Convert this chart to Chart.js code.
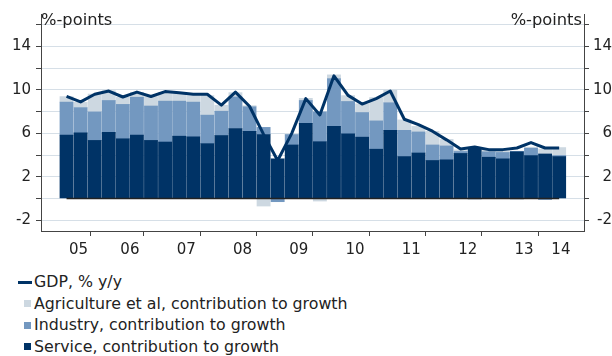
<!DOCTYPE html>
<html>
<head>
<meta charset="utf-8">
<script src="https://cdn.jsdelivr.net/npm/chart.js@4/dist/chart.umd.min.js"></script>
<style>
  html, body { margin: 0; padding: 0; background: #fff; }
  #wrap { position: relative; width: 612px; height: 356px; font-family: "DejaVu Sans", Verdana, sans-serif; color: #222; overflow: hidden; }
  #box { position: absolute; left: 0; top: 0; width: 612px; height: 262px; }
  .unit { position: absolute; top: 11px; font-size: 16.3px; line-height: 18px; white-space: nowrap; }
  #unitL { left: 41px; }
  #unitR { right: 30px; }
  #legend { position: absolute; left: 0; top: 271px; font-size: 15.8px; }
  .li { position: relative; height: 21.5px; line-height: 21.5px; padding-left: 34px; white-space: nowrap; }
  .sw { position: absolute; }
  .sw.line { left: 18px; width: 14px; height: 3px; top: 9.5px; }
  .sw.box { left: 24px; width: 7px; height: 7px; top: 7.5px; }
</style>
</head>
<body>
<div id="wrap">
  <div id="box"><canvas id="c"></canvas></div>
  <div class="unit" id="unitL">%-points</div>
  <div class="unit" id="unitR">%-points</div>
  <div id="legend"></div>
</div>
<script>
// Quarterly GDP growth and sector contributions, 2005Q2 – 2014Q1
const quarters = [
  '2005Q2','2005Q3','2005Q4',
  '2006Q1','2006Q2','2006Q3','2006Q4',
  '2007Q1','2007Q2','2007Q3','2007Q4',
  '2008Q1','2008Q2','2008Q3','2008Q4',
  '2009Q1','2009Q2','2009Q3','2009Q4',
  '2010Q1','2010Q2','2010Q3','2010Q4',
  '2011Q1','2011Q2','2011Q3','2011Q4',
  '2012Q1','2012Q2','2012Q3','2012Q4',
  '2013Q1','2013Q2','2013Q3','2013Q4',
  '2014Q1'
];
const years = ['05','06','07','08','09','10','11','12','13','14'];

const service = [5.83,6.04,5.35,6.10,5.50,5.83,5.35,5.20,5.74,5.68,5.05,5.80,6.45,6.19,5.89,3.65,4.93,6.93,5.23,6.64,5.95,5.65,4.54,6.28,3.86,4.19,3.50,3.56,4.15,4.69,3.80,3.65,4.30,3.95,4.10,3.86];
const industry = [3.05,2.33,2.63,2.93,3.17,3.50,3.17,3.77,3.23,3.20,2.63,2.24,2.90,2.26,0.66,-0.30,0.96,2.10,2.75,4.40,2.99,2.27,2.61,2.54,2.42,1.94,1.43,1.28,0.18,0.00,0.50,0.59,0.05,0.68,-0.10,0.10];
const agriculture = [0.51,0.50,1.64,0.90,0.66,0.45,0.87,0.80,0.70,0.60,1.80,0.55,0.40,0.10,-0.70,0.00,0.00,0.20,-0.24,0.35,0.54,0.80,2.15,1.16,0.96,0.51,1.26,0.60,0.15,-0.10,0.15,0.15,-0.10,0.10,0.45,0.73];
const gdp = [9.4,8.9,9.6,9.9,9.35,9.8,9.4,9.85,9.75,9.6,9.6,8.6,9.8,8.5,5.9,3.5,6.0,9.2,7.7,11.3,9.5,8.7,9.2,9.9,7.3,6.8,6.2,5.4,4.55,4.75,4.5,4.5,4.65,5.15,4.65,4.65];

const yTicks = [-2,0,2,4,6,8,10,12,14,16];
const yLabelled = [-2,2,6,10,14];

const colors = { gdp: '#003366', service: '#003366', industry: '#7398c0', agriculture: '#cdd8e1' };

// index-axis range (quarter index units)
const xMin = -0.8, xMax = 35.75;

// year spans on the index axis, from the quarter labels
const spans = years.map(y => {
  const idx = quarters.map((q, i) => (q.slice(2, 4) === y ? i : -1)).filter(i => i >= 0);
  const first = idx[0], last = idx[idx.length - 1];
  const qFirst = +quarters[first].slice(-1), qLast = +quarters[last].slice(-1);
  const start = first - (qFirst - 1) - 0.5;
  const end = last + (4 - qLast) + 0.5;
  return { y, start, end, mid: (Math.max(start, xMin) + Math.min(end, xMax)) / 2 };
});
const boundaries = spans.slice(0, -1).map(s => s.end);
const labelAt = new Map(spans.map(s => [s.mid, s.y]));

const pts = arr => arr.map((v, i) => ({ x: i, y: v }));

Chart.defaults.font.family = "'DejaVu Sans', Verdana, sans-serif";
Chart.defaults.font.size = 15;
Chart.defaults.color = '#222';

const zeroLine = {
  id: 'zeroLine',
  afterDatasetsDraw(chart) {
    const { ctx, scales: { x, y } } = chart;
    const y0 = Math.round(y.getPixelForValue(0)) + 0.5;
    ctx.save();
    ctx.strokeStyle = '#222';
    ctx.lineWidth = 1.5;
    ctx.beginPath();
    ctx.moveTo(x.getPixelForValue(0), y0);
    ctx.lineTo(x.getPixelForValue(quarters.length - 1), y0);
    ctx.stroke();
    ctx.restore();
  }
};

const yAxisBase = {
  min: -3, max: 17,
  afterBuildTicks: s => { s.ticks = yTicks.map(v => ({ value: v })); },
  ticks: { callback: v => (yLabelled.includes(v) ? String(v) : ''), autoSkip: false, padding: 5 },
  border: { display: true, color: '#444', width: 1 }
};

new Chart(document.getElementById('c'), {
  data: {
    datasets: [
      { type: 'line', label: 'GDP, % y/y', data: pts(gdp), borderColor: colors.gdp, borderWidth: 3,
        pointRadius: 0, tension: 0, order: 0, stack: 'gdp', yAxisID: 'y', borderJoinStyle: 'round' },
      { type: 'bar', label: 'Service, contribution to growth', data: pts(service), backgroundColor: colors.service, order: 1, stack: 'gva' },
      { type: 'bar', label: 'Industry, contribution to growth', data: pts(industry), backgroundColor: colors.industry, order: 1, stack: 'gva' },
      { type: 'bar', label: 'Agriculture et al, contribution to growth', data: pts(agriculture), backgroundColor: colors.agriculture, order: 1, stack: 'gva' }
    ]
  },
  options: {
    responsive: true,
    maintainAspectRatio: false,
    animation: false,
    events: [],
    layout: { padding: { top: 10, left: 0, right: 0, bottom: 0 } },
    datasets: { bar: { barThickness: 13.2, borderWidth: 0 } },
    plugins: { legend: { display: false }, tooltip: { enabled: false } },
    scales: {
      x: {
        type: 'linear', min: xMin, max: xMax, stacked: true,
        afterBuildTicks: s => {
          s.ticks = [...boundaries, ...spans.map(sp => sp.mid)].sort((a, b) => a - b).map(v => ({ value: v }));
        },
        afterFit: s => { s.height = 31; },
        ticks: { callback: v => labelAt.get(v) || '', autoSkip: false, maxRotation: 0, padding: 5 },
        grid: {
          drawOnChartArea: false, drawTicks: true, tickLength: 5,
          tickColor: c => (c.tick && boundaries.includes(c.tick.value) ? '#444' : 'rgba(0,0,0,0)')
        },
        border: { display: true, color: '#444', width: 1 }
      },
      y: Object.assign({}, yAxisBase, {
        position: 'left', stacked: true,
        afterFit: s => { s.width = 41; },
        grid: { color: '#d6dfe7', lineWidth: 1, tickColor: '#444', tickLength: 5 }
      }),
      y2: Object.assign({}, yAxisBase, {
        position: 'right',
        afterFit: s => { s.width = 28; },
        ticks: Object.assign({}, yAxisBase.ticks, { crossAlign: 'far', padding: 1 }),
        grid: { drawOnChartArea: false, tickColor: '#444', tickLength: 5 }
      })
    }
  },
  plugins: [zeroLine]
});

// legend below the plot
const legendItems = [
  { label: 'GDP, % y/y', color: colors.gdp, kind: 'line' },
  { label: 'Agriculture et al, contribution to growth', color: colors.agriculture, kind: 'box' },
  { label: 'Industry, contribution to growth', color: colors.industry, kind: 'box' },
  { label: 'Service, contribution to growth', color: colors.service, kind: 'box' }
];
const legend = document.getElementById('legend');
legendItems.forEach(it => {
  const row = document.createElement('div');
  row.className = 'li';
  const sw = document.createElement('span');
  sw.className = 'sw ' + it.kind;
  sw.style.background = it.color;
  row.appendChild(sw);
  row.appendChild(document.createTextNode(it.label));
  legend.appendChild(row);
});
</script>
</body>
</html>
